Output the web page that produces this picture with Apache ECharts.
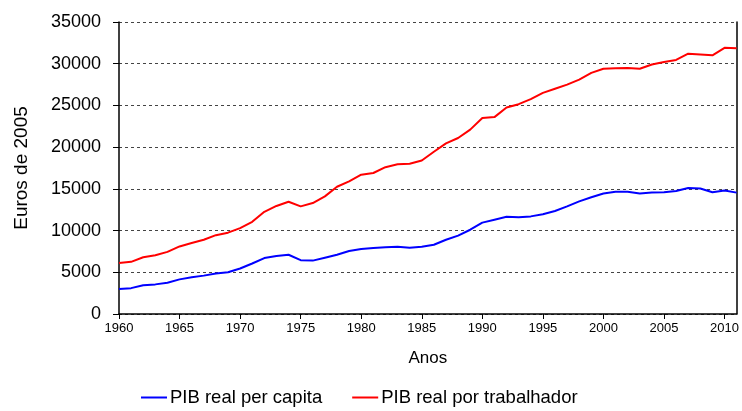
<!DOCTYPE html>
<html>
<head>
<meta charset="utf-8">
<script src="https://cdn.jsdelivr.net/npm/echarts@6/dist/echarts.min.js"></script>
<style>
  html, body { margin: 0; padding: 0; background: #fff; }
  #chart { width: 742px; height: 411px; }
</style>
</head>
<body>
<div id="chart"></div>
<script>
  // anos 1960-2011
  var years = [
    1960, 1961, 1962, 1963, 1964, 1965, 1966, 1967, 1968, 1969,
    1970, 1971, 1972, 1973, 1974, 1975, 1976, 1977, 1978, 1979,
    1980, 1981, 1982, 1983, 1984, 1985, 1986, 1987, 1988, 1989,
    1990, 1991, 1992, 1993, 1994, 1995, 1996, 1997, 1998, 1999,
    2000, 2001, 2002, 2003, 2004, 2005, 2006, 2007, 2008, 2009,
    2010, 2011
  ];

  // PIB real per capita (euros de 2005)
  var perCapita = [
    3000, 3100, 3450, 3550, 3750, 4150, 4400, 4600, 4850, 5000,
    5450, 6050, 6700, 6950, 7100, 6450, 6400, 6750, 7100, 7550,
    7800, 7900, 8000, 8050, 7950, 8050, 8300, 8900, 9400, 10100,
    10950, 11300, 11650, 11600, 11700, 11950, 12350, 12900, 13500, 14000,
    14450, 14650, 14650, 14450, 14550, 14600, 14750, 15100, 15050, 14600,
    14800, 14550
  ];

  // PIB real por trabalhador (euros de 2005)
  var perWorker = [
    6100, 6250, 6800, 7050, 7450, 8100, 8500, 8900, 9450, 9750,
    10300, 11050, 12250, 12950, 13450, 12900, 13300, 14100, 15250, 15900,
    16700, 16900, 17600, 17950, 18000, 18400, 19450, 20450, 21100, 22100,
    23500, 23600, 24750, 25150, 25750, 26500, 27000, 27500, 28100, 28900,
    29400, 29450, 29500, 29400, 29900, 30200, 30450, 31200, 31100, 31000,
    31900, 31850
  ];

  var xTicks = [1960, 1965, 1970, 1975, 1980, 1985, 1990, 1995, 2000, 2005, 2010];

  function pairs(vals) {
    return years.map(function (y, i) { return [y, vals[i]]; });
  }

  function plain(v) {
    return String(v);
  }

  var chart = echarts.init(document.getElementById("chart"), null, { renderer: "canvas" });

  chart.setOption({
    animation: false,
    backgroundColor: "#ffffff",
    textStyle: { fontFamily: "Liberation Sans" },
    grid: { left: 119, right: 4, top: 22, bottom: 97, containLabel: false },
    legend: {
      top: 383,
      left: 136,
      itemGap: 30,
      itemWidth: 26,
      itemHeight: 2,
      icon: "rect",
      textStyle: { fontSize: 18.5, color: "#000", fontFamily: "Liberation Sans", padding: [0, 0, 0, -2] },
      data: ["PIB real per capita", "PIB real por trabalhador"]
    },
    xAxis: {
      type: "value",
      min: 1960,
      max: 2011,
      interval: 5,
      name: "Anos",
      nameLocation: "middle",
      nameGap: 36,
      nameTextStyle: { fontSize: 17, color: "#000" },
      axisLine: { show: true, onZero: false, lineStyle: { color: "#000", width: 1.5 } },
      axisTick: { show: true, length: 5, lineStyle: { color: "#000" }, customValues: xTicks },
      axisLabel: { color: "#000", fontSize: 13, margin: 8, customValues: xTicks, formatter: plain },
      splitLine: { show: false }
    },
    yAxis: [
      {
        type: "value",
        min: 0,
        max: 35000,
        interval: 5000,
        name: "Euros de 2005",
        nameLocation: "middle",
        nameGap: 88,
        nameTextStyle: { fontSize: 19, color: "#000" },
        axisLine: { show: true, lineStyle: { color: "#000", width: 1.5 } },
        axisTick: { show: true, length: 6, lineStyle: { color: "#000" } },
        axisLabel: { color: "#000", fontSize: 18, margin: 18, formatter: plain },
        splitLine: { show: true, lineStyle: { color: "#444", type: [3, 3], width: 1 } }
      },
      {
        type: "value",
        position: "right",
        min: 0,
        max: 35000,
        axisLine: { show: true, lineStyle: { color: "#000", width: 1.5 } },
        axisTick: { show: false },
        axisLabel: { show: false },
        splitLine: { show: false }
      }
    ],
    series: [
      {
        name: "PIB real per capita",
        type: "line",
        data: pairs(perCapita),
        showSymbol: false,
        symbol: "none",
        color: "#0000ff",
        lineStyle: { color: "#0000ff", width: 2 }
      },
      {
        name: "PIB real por trabalhador",
        type: "line",
        data: pairs(perWorker),
        showSymbol: false,
        symbol: "none",
        color: "#ff0000",
        lineStyle: { color: "#ff0000", width: 2 }
      }
    ]
  });
</script>
</body>
</html>
